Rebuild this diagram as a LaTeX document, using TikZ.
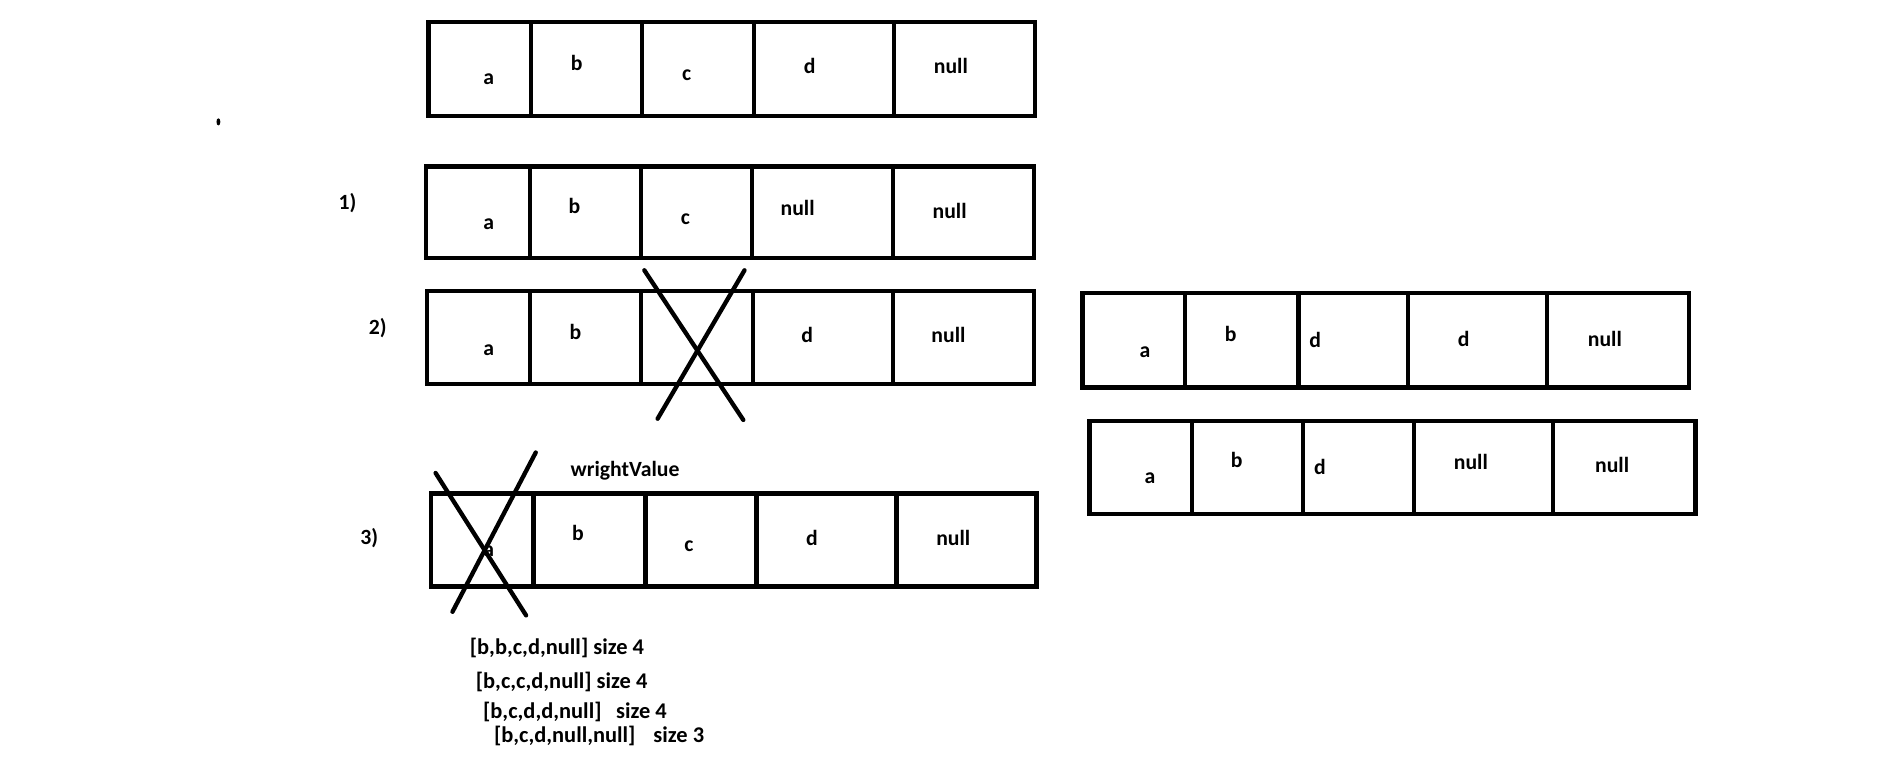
\documentclass[tikz,border=0pt]{standalone}
\usepackage{fontspec}
\setmainfont{Carlito}
\begin{document}
\begin{tikzpicture}[x=0.5pt, y=-0.5pt,
  box/.style={line width=1.8pt},
  cross/.style={line width=1.8pt, line cap=round},
  lbl/.style={font=\bfseries\fontsize{9}{10}\selectfont, inner sep=0pt},
  steptext/.style={font=\bfseries\fontsize{9.3}{11}\selectfont, inner sep=0pt, anchor=west}]

  \useasboundingbox[fill=white] (0,0) rectangle (1568,632);

  % 原始数组
  \draw[box] (355,18) rectangle (858,96);
  \foreach \x in {440,532,625,741}
    \draw[box] (\x,18) -- (\x,96);
  \node[lbl] (a0) at (405,66) {a};
  \node[lbl] (b0) at (478,52) {b};
  \node[lbl] (c0) at (569,62) {c};
  \node[lbl] (d0) at (671,55) {d};
  \node[lbl] (n0) at (788,55) {null};

  % 小点
  \fill (181,101) ellipse (1.6 and 3);

  % 1)
  \node[lbl] (s1) at (288,168) {1)};
  \draw[box] (353,138) rectangle (857,214);
  \foreach \x in {439,531,623,740}
    \draw[box] (\x,138) -- (\x,214);
  \node[lbl] (a1) at (405,186) {a};
  \node[lbl] (b1) at (476,171) {b};
  \node[lbl] (c1) at (568,182) {c};
  \node[lbl] (n1a) at (661,172) {null};
  \node[lbl] (n1b) at (787,175) {null};

  % 2)
  \node[lbl] (s2) at (313,272) {2)};
  \draw[box] (354,241) rectangle (857,318);
  \foreach \x in {439,531,624,740}
    \draw[box] (\x,241) -- (\x,318);
  \node[lbl] (a2) at (405,290) {a};
  \node[lbl] (b2) at (477,275) {b};
  \node[lbl] (d2) at (669,278) {d};
  \node[lbl] (n2) at (786,278) {null};
  \draw[cross] (534,224) -- (616,348);
  \draw[cross] (617,224) -- (545,347);

  % 3)
  \node[lbl] (s3) at (306,446) {3)};
  \node[lbl] (wv) at (518,390) {wrightValue};
  \draw[box] (357,409) rectangle (859,486);
  \foreach \x in {442,535,627,743}
    \draw[box] (\x,409) -- (\x,486);
  \node[lbl] (a3) at (405,457) {a};
  \node[lbl] (b3) at (479,442) {b};
  \node[lbl] (c3) at (571,453) {c};
  \node[lbl] (d3) at (673,446) {d};
  \node[lbl] (n3) at (790,446) {null};
  \draw[cross] (361,392) -- (436,510);
  \draw[cross] (444,375) -- (375,507);

  % 右边两个数组
  \draw[box] (897,243) rectangle (1400,321);
  \foreach \x in {982,1076,1167,1282}
    \draw[box] (\x,243) -- (\x,321);
  \node[lbl] (ra1) at (949,292) {a};
  \node[lbl] (rb1) at (1020,277) {b};
  \node[lbl] (rc1) at (1090,282) {d};
  \node[lbl] (rd1) at (1213,281) {d};
  \node[lbl] (rn1) at (1330,281) {null};

  \draw[box] (903,349) rectangle (1405,426);
  \foreach \x in {988,1080,1172,1287}
    \draw[box] (\x,349) -- (\x,426);
  \node[lbl] (ra2) at (953,396) {a};
  \node[lbl] (rb2) at (1025,381) {b};
  \node[lbl] (rc2) at (1094,387) {d};
  \node[lbl] (rd2) at (1219,383) {null};
  \node[lbl] (rn2) at (1336,385) {null};

  % 步骤
  \node[steptext] (t1) at (389,537) {[b,b,c,d,null] size 4};
  \node[steptext] (t2) at (394,565) {[b,c,c,d,null] size 4};
  \node[steptext] (t3) at (400,590) {[b,c,d,d,null]\hspace{0.65em}size 4};
  \node[steptext] (t4) at (409,610) {[b,c,d,null,null]\hspace{0.8em}size 3};

\end{tikzpicture}
\end{document}
